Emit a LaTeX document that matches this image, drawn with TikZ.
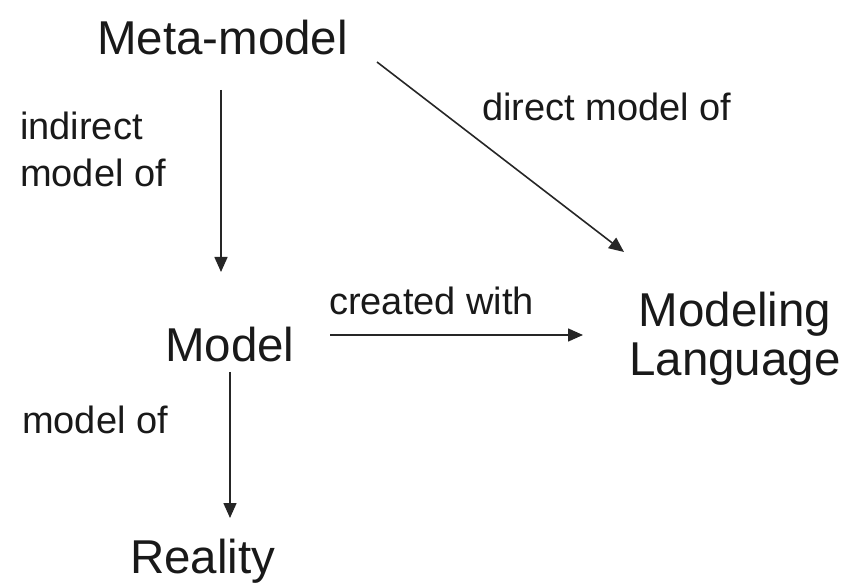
\documentclass[tikz,border=0pt]{standalone}
\usepackage{fontspec}
\setmainfont{Liberation Sans}
\usetikzlibrary{arrows.meta}
\begin{document}
\begin{tikzpicture}[x=1pt,y=-1pt,
  big/.style={font=\fontsize{47.5}{48}\selectfont, inner sep=0pt, anchor=base west, text=black!90},
  small/.style={font=\fontsize{38}{47}\selectfont, inner sep=0pt, anchor=base west, text=black!90},
  arr/.style={draw=black!85, line width=1.6pt, -{Triangle[length=15pt,width=13pt]}}]
\useasboundingbox (0,0) rectangle (849,585);
% concepts
\node[big] (meta) at (97,55) {Meta-model};
\node[big] (model) at (165,362) {Model};
\node[big] (reality) at (130,573) {Reality};
\node[big, anchor=base] (lang1) at (735,327) {Modeling};
\node[big, anchor=base] (lang2) at (735,375) {Language};
% relation labels
\node[small] (indirect1) at (20,140) {indirect};
\node[small] (indirect2) at (20,187) {model of};
\node[small] (modelof) at (22,433) {model of};
\node[small] (created) at (329,315) {created with};
\node[small] (direct) at (482,121) {direct model of};
% connector end points
\coordinate (m1) at (221,90);
\coordinate (m2) at (221,272);
\coordinate (d1) at (377,62);
\coordinate (d2) at (624,252);
\coordinate (c1) at (330,335);
\coordinate (c2) at (583,335);
\coordinate (r1) at (230,372);
\coordinate (r2) at (230,518);
\draw[arr] (m1) -- (m2);
\draw[arr] (d1) -- (d2);
\draw[arr] (c1) -- (c2);
\draw[arr] (r1) -- (r2);
\end{tikzpicture}
\end{document}
